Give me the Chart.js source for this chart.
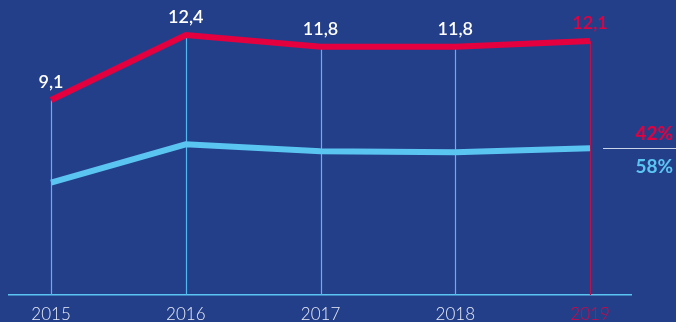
<!DOCTYPE html>
<html>
<head>
<meta charset="utf-8">
<script src="https://cdn.jsdelivr.net/npm/chart.js@4"></script>
<style>
  html, body { margin: 0; padding: 0; background: #243f8a; overflow: hidden; }
  canvas { display: block; }
</style>
</head>
<body>
<canvas id="trendChart" width="676" height="322"></canvas>
<script>
document.addEventListener('DOMContentLoaded', () => {
  // Data
  const years = ['2015', '2016', '2017', '2018', '2019'];
  const totalValues = [9.1, 12.4, 11.8, 11.8, 12.1];
  const partValues = [4.9, 6.85, 6.5, 6.45, 6.65];
  const shareLabels = ['42%', '58%'];

  const RED = '#e4003f';
  const BLUE = '#5bc5f2';
  const WHITE = '#ffffff';

  const toPoints = arr => arr.map((v, i) => ({ x: i, y: v }));
  const fmt = v => v.toFixed(1).replace('.', ',');

  // Thin drop lines from each total point down to the axis
  const dropLines = {
    id: 'dropLines',
    beforeDatasetsDraw(chart) {
      const { ctx, chartArea, scales } = chart;
      ctx.save();
      ctx.lineWidth = 1.2;
      totalValues.forEach((v, i) => {
        const x = Math.round(scales.x.getPixelForValue(i)) + 0.5;
        ctx.strokeStyle = i === years.length - 1 ? '#b8134c' : '#4fbaf0';
        ctx.beginPath();
        ctx.moveTo(x, scales.y.getPixelForValue(v));
        ctx.lineTo(x, chartArea.bottom);
        ctx.stroke();
      });
      ctx.restore();
    }
  };

  // Value labels above the totals, plus the share labels on the right
  const valueLabels = {
    id: 'valueLabels',
    afterDatasetsDraw(chart) {
      const { ctx, scales, width } = chart;
      ctx.save();
      ctx.font = '600 18px Lato';
      ctx.textAlign = 'center';
      ctx.textBaseline = 'middle';
      totalValues.forEach((v, i) => {
        ctx.fillStyle = i === years.length - 1 ? RED : WHITE;
        ctx.fillText(fmt(v), scales.x.getPixelForValue(i), scales.y.getPixelForValue(v) - 18);
      });

      const last = years.length - 1;
      const xEnd = scales.x.getPixelForValue(last);
      const ySplit = Math.round(scales.y.getPixelForValue(partValues[last])) + 0.5;
      ctx.strokeStyle = '#c9d3ea';
      ctx.lineWidth = 1.2;
      ctx.beginPath();
      ctx.moveTo(xEnd + 13, ySplit);
      ctx.lineTo(width, ySplit);
      ctx.stroke();

      ctx.textAlign = 'right';
      ctx.font = '700 19px Lato';
      ctx.fillStyle = RED;
      ctx.fillText(shareLabels[0], width - 3, ySplit - 15);
      ctx.fillStyle = BLUE;
      ctx.fillText(shareLabels[1], width - 3, ySplit + 18);
      ctx.restore();
    }
  };

  new Chart(document.getElementById('trendChart'), {
    type: 'line',
    data: {
      datasets: [
        {
          label: 'Total',
          data: toPoints(totalValues),
          borderColor: RED,
          borderWidth: 6,
          borderCapStyle: 'butt',
          borderJoinStyle: 'miter',
          pointRadius: 0,
          tension: 0
        },
        {
          label: 'Part',
          data: toPoints(partValues),
          borderColor: BLUE,
          borderWidth: 6,
          borderCapStyle: 'butt',
          borderJoinStyle: 'miter',
          pointRadius: 0,
          tension: 0
        }
      ]
    },
    options: {
      responsive: false,
      animation: false,
      layout: { padding: { left: 9, right: 45, top: 10, bottom: 0 } },
      plugins: {
        legend: { display: false },
        tooltip: { enabled: false }
      },
      scales: {
        x: {
          type: 'linear',
          min: -0.312,
          max: 4.304,
          afterBuildTicks: scale => {
            scale.ticks = years.map((_, i) => ({ value: i }));
          },
          afterFit: scale => { scale.height = 27; },
          grid: { display: false, drawTicks: false },
          border: { display: true, color: BLUE, width: 1.5 },
          ticks: {
            padding: 9,
            autoSkip: false,
            maxRotation: 0,
            font: { family: 'Lato', size: 17, weight: 300 },
            color: ctx => (ctx.index === years.length - 1 ? RED : '#e8ecf6'),
            callback: value => years[value]
          }
        },
        y: {
          display: false,
          min: -0.8,
          max: 13.67
        }
      }
    },
    plugins: [dropLines, valueLabels]
  });
});
</script>
</body>
</html>
